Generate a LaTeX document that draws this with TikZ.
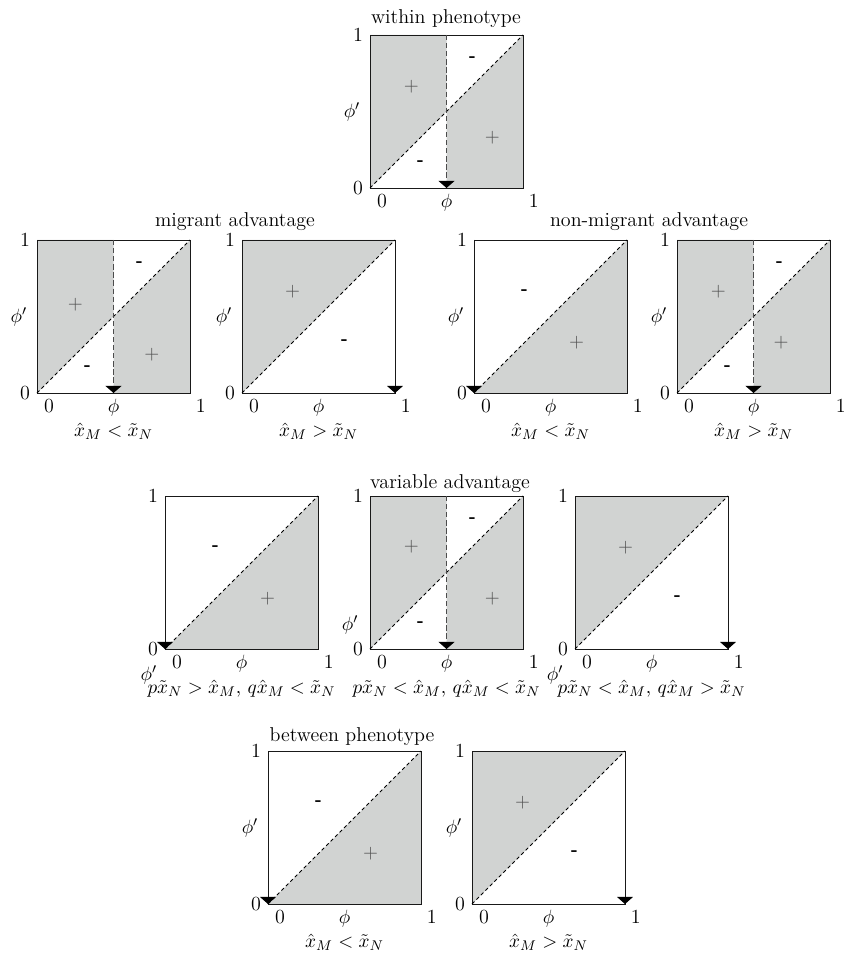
\documentclass[tikz,border=0pt]{standalone}
\usepackage{amsmath}
\usetikzlibrary{arrows.meta}
\definecolor{regiongray}{HTML}{D1D3D2}
\definecolor{signgray}{HTML}{505050}
\tikzset{
  panelbox/.style={draw=black!90, line width=0.45pt},
  diagline/.style={dash pattern=on 2pt off 1.6pt, line width=0.5pt},
  cutline/.style={dash pattern=on 3pt off 1.6pt, line width=0.7pt, draw=black!70},
  downtip/.style={-{Triangle[length=4pt,width=9pt,color=black]}},
  plussign/.style={text=signgray, inner sep=0pt},
  minussign/.style={font=\bfseries, inner sep=0pt},
  ticklabel/.style={inner sep=0pt},
  caselabel/.style={inner sep=0pt},
}
% tick labels and the phi' label of one panel
\newcommand{\panelticks}[2]{%
  \node[ticklabel] (#1yone) at (-0.078,1) {1};
  \node[ticklabel] (#1yzero) at (-0.078,0) {0};
  \node[ticklabel] (#1xzero) at (0.078,-0.085) {0};
  \node[ticklabel] (#1xphi) at (0.5,-0.095) {$\phi$};
  \node[ticklabel] (#1xone) at (1.07,-0.085) {1};
  \node[ticklabel] (#1yphi) at (#2) {$\phi'$};}
% split panel: name, corner, phi' pos, first plus, second plus
\newcommand{\withinpanel}[5]{%
  \begin{scope}[shift={(#2)}, x=3.06cm, y=3.06cm]
    \fill[regiongray] (0,0) -- (0.5,0.5) -- (0.5,1) -- (0,1) -- cycle;
    \fill[regiongray] (0.5,0) -- (1,0) -- (1,1) -- (0.5,0.5) -- cycle;
    \draw[panelbox] (0,0) rectangle (1,1);
    \draw[diagline] (0,0) -- (1,1);
    \coordinate (#1top) at (0.5,1);
    \coordinate (#1bot) at (0.5,0);
    \draw[cutline, downtip] (#1top) -- (#1bot);
    \node[plussign] (#1pa) at (#4) {$+$};
    \node[plussign] (#1pb) at (#5) {$+$};
    \node[minussign] (#1ma) at (0.67,0.84) {-};
    \node[minussign] (#1mb) at (0.33,0.16) {-};
    \panelticks{#1}{#3}
  \end{scope}}
% gray above the diagonal, arrow down the right edge
\newcommand{\upperpanel}[3]{%
  \begin{scope}[shift={(#2)}, x=3.06cm, y=3.06cm]
    \fill[regiongray] (0,0) -- (1,1) -- (0,1) -- cycle;
    \draw[panelbox] (0,0) rectangle (1,1);
    \draw[diagline] (0,0) -- (1,1);
    \coordinate (#1top) at (1,1);
    \coordinate (#1bot) at (1,0);
    \draw[panelbox, downtip] (#1top) -- (#1bot);
    \node[plussign] (#1pa) at (0.33,0.66) {$+$};
    \node[minussign] (#1ma) at (0.67,0.33) {-};
    \panelticks{#1}{#3}
  \end{scope}}
% gray below the diagonal, arrow down the left edge
\newcommand{\lowerpanel}[3]{%
  \begin{scope}[shift={(#2)}, x=3.06cm, y=3.06cm]
    \fill[regiongray] (0,0) -- (1,0) -- (1,1) -- cycle;
    \draw[panelbox] (0,0) rectangle (1,1);
    \draw[diagline] (0,0) -- (1,1);
    \coordinate (#1top) at (0,1);
    \coordinate (#1bot) at (0,0);
    \draw[panelbox, downtip] (#1top) -- (#1bot);
    \node[plussign] (#1pa) at (0.67,0.33) {$+$};
    \node[minussign] (#1ma) at (0.33,0.66) {-};
    \panelticks{#1}{#3}
  \end{scope}}

\begin{document}
\begin{tikzpicture}[font=\fontsize{11.4}{13.5}\selectfont]
  \useasboundingbox (0,0) rectangle (17.02,-19.06);

  % within phenotype
  \node[caselabel] (withintitle) at (8.92,-0.38) {within phenotype};
  \withinpanel{w}{7.40,-3.76}{-0.118,0.5}{0.27,0.66}{0.80,0.33}

  % migrant / non-migrant advantage
  \node[caselabel] (migtitle) at (4.70,-4.44) {migrant advantage};
  \node[caselabel] (nonmigtitle) at (12.98,-4.44) {non-migrant advantage};
  \withinpanel{ma}{0.74,-7.86}{-0.118,0.5}{0.25,0.58}{0.75,0.25}
  \upperpanel{mb}{4.84,-7.86}{-0.118,0.5}
  \lowerpanel{na}{9.48,-7.86}{-0.118,0.5}
  \withinpanel{nb}{13.54,-7.86}{-0.118,0.5}{0.27,0.66}{0.68,0.33}
  \node[caselabel] (malab) at (2.27,-8.62) {$\hat{x}_M < \tilde{x}_N$};
  \node[caselabel] (mblab) at (6.37,-8.62) {$\hat{x}_M > \tilde{x}_N$};
  \node[caselabel] (nalab) at (11.01,-8.62) {$\hat{x}_M < \tilde{x}_N$};
  \node[caselabel] (nblab) at (15.07,-8.62) {$\hat{x}_M > \tilde{x}_N$};

  % variable advantage
  \node[caselabel] (vartitle) at (9.00,-9.68) {variable advantage};
  \lowerpanel{va}{3.30,-12.98}{-0.105,-0.17}
  \withinpanel{vb}{7.40,-12.98}{-0.13,0.157}{0.27,0.67}{0.80,0.33}
  \upperpanel{vc}{11.50,-12.98}{-0.13,-0.17}
  \node[caselabel] (valab) at (4.83,-13.78) {$p\tilde{x}_N > \hat{x}_M,\, q\hat{x}_M < \tilde{x}_N$};
  \node[caselabel] (vblab) at (8.93,-13.78) {$p\tilde{x}_N < \hat{x}_M,\, q\hat{x}_M < \tilde{x}_N$};
  \node[caselabel] (vclab) at (13.03,-13.78) {$p\tilde{x}_N < \hat{x}_M,\, q\hat{x}_M > \tilde{x}_N$};

  % between phenotype
  \node[caselabel] (bettitle) at (7.04,-14.74) {between phenotype};
  \lowerpanel{ba}{5.36,-18.08}{-0.118,0.5}
  \upperpanel{bb}{9.44,-18.08}{-0.118,0.5}
  \node[caselabel] (balab) at (6.89,-18.84) {$\hat{x}_M < \tilde{x}_N$};
  \node[caselabel] (bblab) at (10.97,-18.84) {$\hat{x}_M > \tilde{x}_N$};
\end{tikzpicture}
\end{document}
